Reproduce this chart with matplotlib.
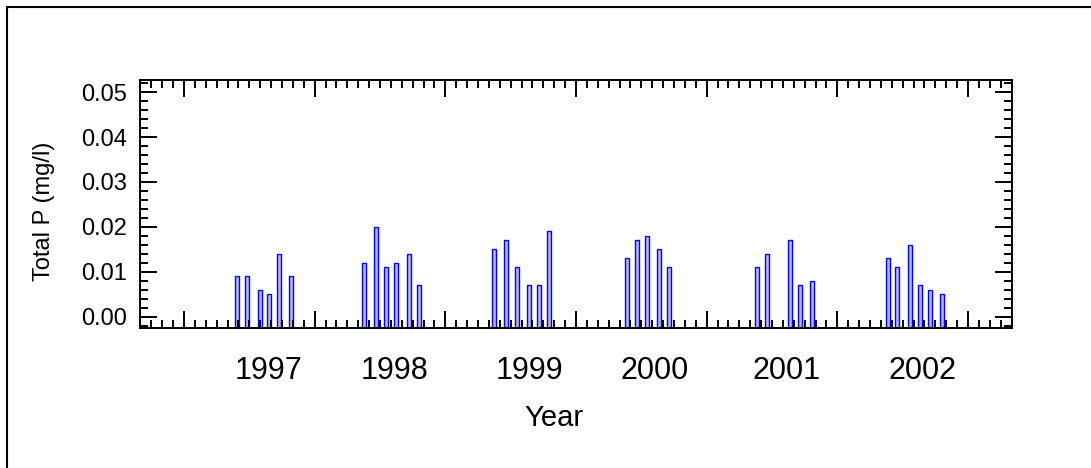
import matplotlib
matplotlib.use("Agg")
import matplotlib.pyplot as plt
from matplotlib.patches import Rectangle
from matplotlib.ticker import MultipleLocator

plt.rcParams["font.family"] = ["Liberation Sans", "DejaVu Sans"]

# sampling dates (decimal years) and total phosphorus values
dates_1997 = [1997.408, 1997.480, 1997.578, 1997.653, 1997.725, 1997.819]
tp_1997 = [0.009, 0.009, 0.006, 0.005, 0.014, 0.009]
dates_1998 = [1998.380, 1998.472, 1998.548, 1998.625, 1998.722, 1998.798]
tp_1998 = [0.012, 0.020, 0.011, 0.012, 0.014, 0.007]
dates_1999 = [1999.372, 1999.467, 1999.548, 1999.640, 1999.717, 1999.793]
tp_1999 = [0.015, 0.017, 0.011, 0.007, 0.007, 0.019]
dates_2000 = [2000.388, 2000.464, 2000.541, 2000.637, 2000.714]
tp_2000 = [0.013, 0.017, 0.018, 0.015, 0.011]
dates_2001 = [2001.387, 2001.462, 2001.635, 2001.712, 2001.806]
tp_2001 = [0.011, 0.014, 0.017, 0.007, 0.008]
dates_2002 = [2002.385, 2002.459, 2002.554, 2002.630, 2002.707, 2002.803]
tp_2002 = [0.013, 0.011, 0.016, 0.007, 0.006, 0.005]

dates = dates_1997 + dates_1998 + dates_1999 + dates_2000 + dates_2001 + dates_2002
total_p = tp_1997 + tp_1998 + tp_1999 + tp_2000 + tp_2001 + tp_2002

year_labels = ["1997", "1998", "1999", "2000", "2001", "2002"]
label_pos = [1997.649, 1998.613, 1999.644, 2000.598, 2001.612, 2002.650]

y_lo, y_hi = -0.0025, 0.0527

fig = plt.figure(figsize=(10.91, 4.68), dpi=100)
ax = fig.add_axes([140 / 1091, 1 - 328 / 468, 872 / 1091, 248 / 468])

# bars start at the bottom of the plot area
heights = [v - y_lo for v in total_p]
ax.bar(dates, heights, bottom=y_lo, width=0.03, color="#b8b8e8",
       edgecolor="#0000ff", linewidth=1.0)

ax.set_xlim(1996.663, 2003.337)
ax.set_ylim(y_lo, y_hi)

ax.xaxis.set_major_locator(MultipleLocator(1))
ax.xaxis.set_minor_locator(MultipleLocator(1 / 12))
ax.yaxis.set_major_locator(MultipleLocator(0.01))
ax.yaxis.set_minor_locator(MultipleLocator(0.002))
ax.yaxis.set_major_formatter(plt.FormatStrFormatter("%.2f"))
ax.set_xticklabels([])

ax.tick_params(which="both", direction="in", top=True, right=True, width=1.4, color="black")
ax.tick_params(which="major", length=12.2)
ax.tick_params(which="minor", length=6.1)
ax.tick_params(axis="y", labelsize=17, pad=9.6)
ax.tick_params(axis="x", labelbottom=False)
for s in ax.spines.values():
    s.set_linewidth(1.4)

# year labels sit under each season of samples
sec = ax.secondary_xaxis("bottom")
sec.set_xticks(label_pos, year_labels)
sec.tick_params(length=0, labelsize=22, pad=20)
sec.spines["bottom"].set_visible(False)

ax.set_ylabel("Total P (mg/l)", fontsize=17)
ax.yaxis.set_label_coords(-0.0975, 0.472)
ax.set_xlabel("Year", fontsize=21)
ax.xaxis.set_label_coords(0.4748, -0.306)

# outer frame (only left and top edges visible)
fig.add_artist(Rectangle((7 / 1091, -0.2), 1.2, 1.2 - 7 / 468, transform=fig.transFigure,
                         fill=False, edgecolor="black", linewidth=1.5, clip_on=False))

plt.savefig("out.png", dpi=100)
plt.close()
